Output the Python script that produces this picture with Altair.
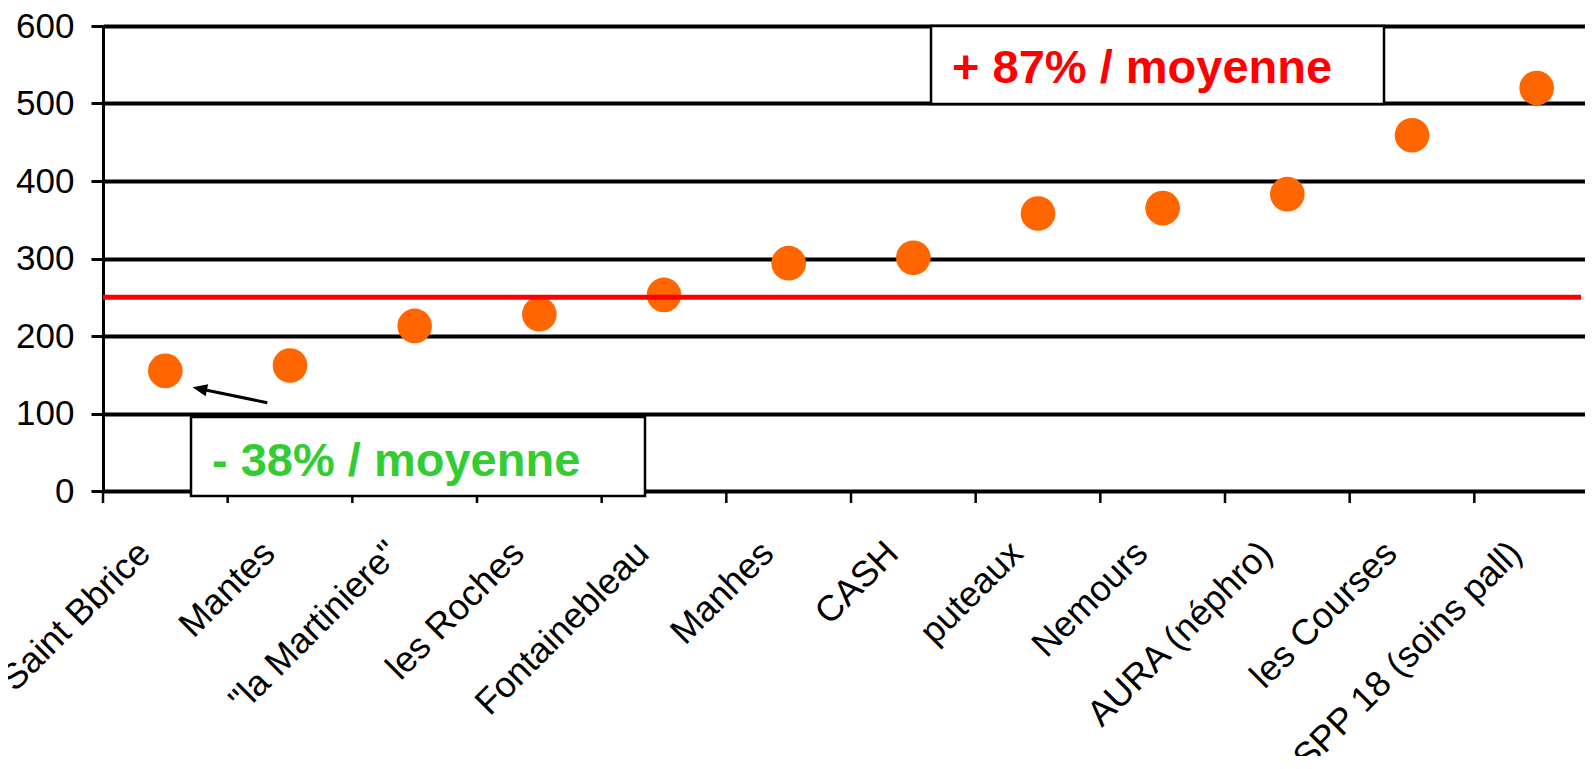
import altair as alt
import pandas as pd

# ---- data ----
sites = [
    "Saint Bbrice",
    "Mantes",
    "\"la Martiniere\"",
    "les Roches",
    "Fontainebleau",
    "Manhes",
    "CASH",
    "puteaux",
    "Nemours",
    "AURA (néphro)",
    "les Courses",
    "SPP 18 (soins pall)",
]
values = [155, 162, 213, 228, 253, 294, 301, 358, 365, 383, 459, 520]
average = [250]
y_ticks = [0, 100, 200, 300, 400, 500, 600]
notes = ["+ 87% / moyenne", "- 38% / moyenne"]

FONT = "Liberation Sans"
W = 1482
H = 465
BAND_RANGE = 1496

df = pd.DataFrame({"site": sites, "value": values})
avg_df = pd.DataFrame({"avg": average})
one = pd.DataFrame({"k": [0]})

xscale = alt.Scale(domain=sites, range=[0, BAND_RANGE], paddingInner=0, paddingOuter=0)
yscale = alt.Scale(domain=[0, 600], nice=False, zero=True)

xaxis = alt.Axis(
    title=None, labelAngle=-45, labelAlign="right", labelBaseline="alphabetic",
    labelFont=FONT, labelFontSize=36, labelColor="black", labelPadding=64,
    labelOffset=-13,
    ticks=False, tickSize=0, domain=False, grid=False, labelLimit=1000,
    labelOverlap=False, labelBound=False,
)
yaxis = alt.Axis(
    title=None, values=y_ticks, labelFont=FONT, labelFontSize=35, labelColor="black",
    labelPadding=17, tickSize=12, tickColor="black", tickWidth=3,
    domainColor="black", domainWidth=3, grid=True, gridColor="black",
    gridWidth=4, gridOpacity=1, labelOverlap=False,
)

ticks = alt.Chart(df).mark_rule(color="black", strokeWidth=2.5).encode(
    x=alt.X("site:N", sort=sites, scale=xscale, bandPosition=0, axis=xaxis),
    y=alt.value(H),
    y2=alt.value(H + 12),
)

points = alt.Chart(df).mark_circle(size=1200, color="#FF6600", opacity=1).encode(
    x=alt.X("site:N", sort=sites, scale=xscale, axis=xaxis),
    y=alt.Y("value:Q", scale=yscale, axis=yaxis),
)

avg_line = alt.Chart(avg_df).mark_rule(color="#FF0000", strokeWidth=5).encode(
    y=alt.Y("avg:Q", scale=yscale, axis=yaxis),
    x=alt.value(0),
    x2=alt.value(1478),
)

green_box = alt.Chart(one).mark_rect(fill="white", stroke="black", strokeWidth=2.5).encode(
    x=alt.value(88), x2=alt.value(542), y=alt.value(391), y2=alt.value(470)
)
green_text = alt.Chart(one).mark_text(
    align="left", baseline="alphabetic", font=FONT, fontSize=47, fontWeight="bold",
    color="#33CC33",
).encode(x=alt.value(109), y=alt.value(450), text=alt.value(notes[1]))

red_box = alt.Chart(one).mark_rect(fill="white", stroke="black", strokeWidth=2.5).encode(
    x=alt.value(828), x2=alt.value(1281), y=alt.value(0), y2=alt.value(78)
)
red_text = alt.Chart(one).mark_text(
    align="left", baseline="alphabetic", font=FONT, fontSize=47, fontWeight="bold",
    color="#FF0000",
).encode(x=alt.value(849), y=alt.value(57), text=alt.value(notes[0]))

arrow_line = alt.Chart(one).mark_rule(color="black", strokeWidth=3).encode(
    x=alt.value(164.3), y=alt.value(376.7), x2=alt.value(99), y2=alt.value(363.3)
)
arrow_head = alt.Chart(one).mark_point(
    shape="M-1,0L1,-0.85L1,0.85Z", filled=True, color="black", size=210,
    angle=11.7, opacity=1, strokeWidth=0,
).encode(x=alt.value(96.8), y=alt.value(362.8))

chart = (
    alt.layer(ticks, points, avg_line, green_box, green_text, red_box, red_text,
              arrow_line, arrow_head)
    .properties(
        width=W, height=H,
        padding={"left": 95, "top": 18, "right": 0, "bottom": 265},
        autosize=alt.AutoSizeParams(type="none"),
    )
    .configure_view(stroke="transparent")
    .configure(background="white")
)

chart.save("out.html", embed_options={"renderer": "svg", "actions": False})
